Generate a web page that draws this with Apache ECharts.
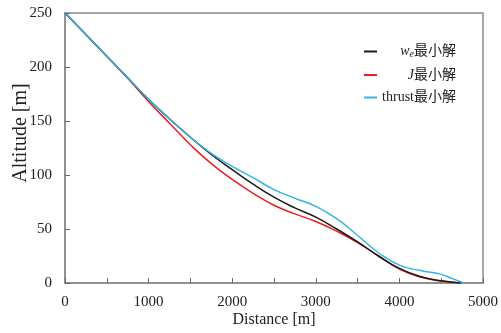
<!DOCTYPE html>
<html>
<head>
<meta charset="utf-8">
<script src="https://cdn.jsdelivr.net/npm/echarts@6/dist/echarts.min.js"></script>
<style>html,body{margin:0;padding:0;background:#fff}#c{width:501px;height:333px}</style>
</head>
<body>
<div id="c"></div>
<script>
const xTickLabels = ['0', '1000', '2000', '3000', '4000', '5000'];
const yTickLabels = ['0', '50', '100', '150', '200', '250'];

const weDist = [0, 250, 500, 750, 1000, 1250, 1500, 1750, 2000, 2250, 2500, 2750, 3000, 3250, 3500, 3750, 4000, 4250, 4500, 4740];
const weAlt  = [250, 230, 210, 190, 170, 152, 135, 119, 105, 91.5, 79.5, 69.5, 61, 50, 38, 25, 13.5, 6, 2, 0];

const jDist = [0, 250, 500, 750, 1000, 1250, 1500, 1750, 2000, 2250, 2500, 2750, 3000, 3250, 3500, 3750, 4000, 4250, 4500, 4720];
const jAlt  = [250, 230, 210, 189.5, 168, 148, 128, 110.5, 96, 83, 72, 64, 57, 48, 37.5, 25, 13, 5.5, 1.8, 0];

const thrustDist = [0, 250, 500, 750, 1000, 1250, 1500, 1750, 2000, 2250, 2500, 2750, 3000, 3250, 3500, 3750, 4000, 4250, 4500, 4620, 4770];
const thrustAlt  = [250, 230, 210, 190, 170, 152, 135, 120, 108, 97.5, 86.5, 78.5, 71, 59.5, 44, 28, 16.5, 11.5, 8, 4.5, 0];

const seriesNames = ['we', 'J', 'thrust'];
const seriesColors = ['#1a1a1a', '#ee1c24', '#33b4e4'];

function pairs(xs, ys) { return xs.map((x, i) => [x, ys[i]]); }

const FONT = "'Liberation Serif', 'Noto Sans CJK JP', serif";
const chart = echarts.init(document.getElementById('c'), null, {renderer: 'canvas'});

chart.setOption({
  animation: false,
  backgroundColor: '#fff',
  grid: {left: 65, right: 17, top: 13, bottom: 49, show: true, borderColor: '#8a8a8a', borderWidth: 1.5},
  legend: {
    orient: 'vertical',
    left: 359, top: 39.5,
    itemWidth: 13, itemHeight: 14, itemGap: 8.5,
    icon: 'path://M0,6 L13,6 L13,8 L0,8 Z',
    textStyle: {
      fontFamily: FONT, fontSize: 14, color: '#222', width: 74,
      rich: {
        i: {fontFamily: FONT, fontSize: 14, fontStyle: 'italic', align: 'right', color: '#222'},
        s: {fontFamily: FONT, fontSize: 10, fontStyle: 'italic', align: 'right', color: '#222', padding: [6, 0, 0, 0]},
        c: {fontFamily: FONT, fontSize: 14, align: 'right', color: '#222'}
      }
    },
    formatter: function (name) {
      if (name === 'we') return '{i|w}{s|e}{c|最小解}';
      if (name === 'J') return '{i|J}{c|最小解}';
      return '{c|thrust最小解}';
    },
    data: seriesNames
  },
  xAxis: {
    type: 'value', min: 0, max: 5000, interval: 500,
    name: 'Distance [m]', nameLocation: 'middle', nameGap: 29, nameMoveOverlap: false,
    nameTextStyle: {fontFamily: FONT, fontSize: 16, color: '#222'},
    axisLine: {show: true, lineStyle: {color: '#8a8a8a', width: 1.5}},
    axisTick: {show: true, inside: true, length: 5, lineStyle: {color: '#666'}},
    splitLine: {show: false},
    axisLabel: {
      fontFamily: FONT, fontSize: 15, color: '#222', margin: 12,
      formatter: function (v) { const s = String(v); return xTickLabels.indexOf(s) >= 0 ? s : ''; }
    }
  },
  yAxis: {
    type: 'value', min: 0, max: 250, interval: 50,
    name: 'Altitude [m]', nameLocation: 'middle', nameGap: 34, nameMoveOverlap: false,
    nameTextStyle: {fontFamily: FONT, fontSize: 20, color: '#222', padding: [0, 0, 0, 30]},
    axisLine: {show: true, lineStyle: {color: '#8a8a8a', width: 1.5}},
    axisTick: {show: true, inside: true, length: 5, lineStyle: {color: '#666'}},
    splitLine: {show: false},
    axisLabel: {
      fontFamily: FONT, fontSize: 15, color: '#222', margin: 13,
      formatter: function (v) { const s = String(v); return yTickLabels.indexOf(s) >= 0 ? s : ''; }
    }
  },
  series: [
    {name: 'we', type: 'line', data: pairs(weDist, weAlt), smooth: 0.5, symbol: 'none', lineStyle: {color: seriesColors[0], width: 1.5}, itemStyle: {color: seriesColors[0]}, z: 3},
    {name: 'J', type: 'line', data: pairs(jDist, jAlt), smooth: 0.5, symbol: 'none', lineStyle: {color: seriesColors[1], width: 1.5}, itemStyle: {color: seriesColors[1]}, z: 2},
    {name: 'thrust', type: 'line', data: pairs(thrustDist, thrustAlt), smooth: 0.5, symbol: 'none', lineStyle: {color: seriesColors[2], width: 1.5}, itemStyle: {color: seriesColors[2]}, z: 4}
  ]
});
</script>
</body>
</html>
